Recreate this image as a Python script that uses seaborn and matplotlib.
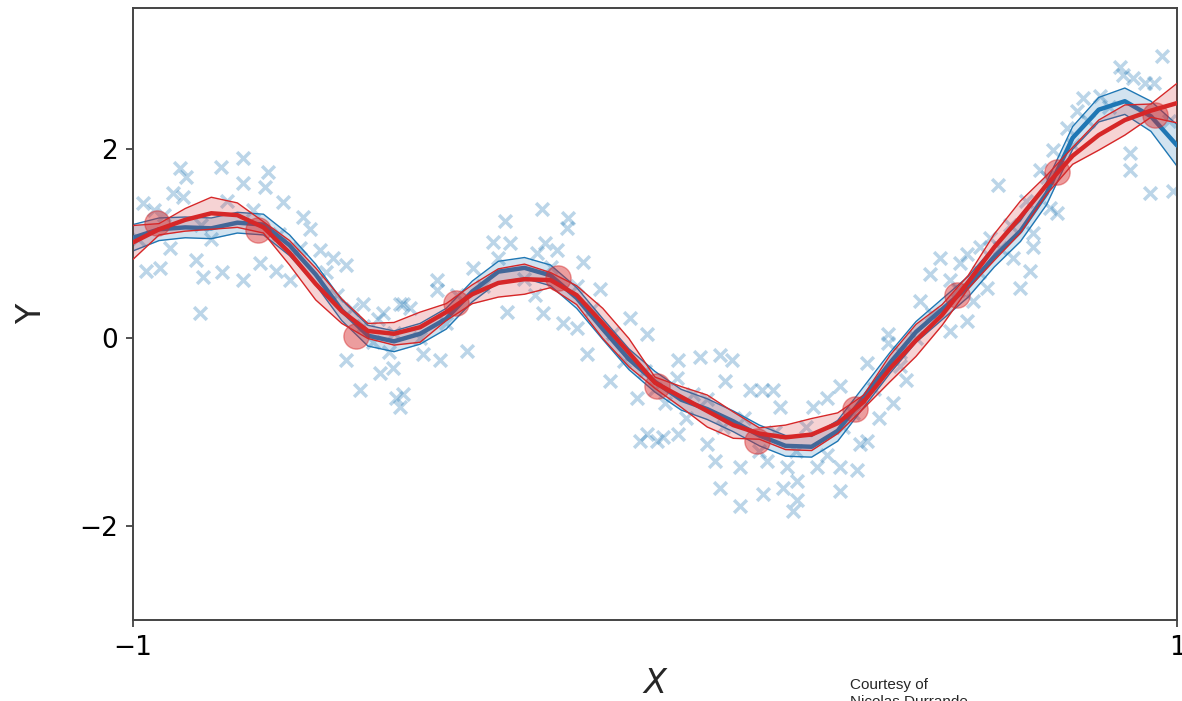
import numpy as np
import pandas as pd
import matplotlib
matplotlib.use("Agg")
import matplotlib.pyplot as plt
import seaborn as sns

# ---------------- data ----------------
x_grid = [-1.0, -0.95, -0.9, -0.85, -0.8, -0.75, -0.7, -0.65, -0.6, -0.55,
          -0.5, -0.45, -0.4, -0.35, -0.3, -0.25, -0.2, -0.15, -0.1, -0.05,
          0.0, 0.05, 0.1, 0.15, 0.2, 0.25, 0.3, 0.35, 0.4, 0.45,
          0.5, 0.55, 0.6, 0.65, 0.7, 0.75, 0.8, 0.85, 0.9, 0.95, 1.0]

full_mean = [1.06, 1.15, 1.17, 1.16, 1.22, 1.20, 0.98, 0.67, 0.29, 0.02,
             -0.04, 0.04, 0.20, 0.49, 0.70, 0.74, 0.66, 0.42, 0.09, -0.23,
             -0.47, -0.66, -0.76, -0.89, -1.04, -1.15, -1.16, -0.99, -0.63, -0.27,
             0.06, 0.30, 0.54, 0.86, 1.13, 1.53, 2.12, 2.42, 2.51, 2.35, 2.04]
full_half = [0.14, 0.12, 0.11, 0.11, 0.11, 0.11, 0.11, 0.11, 0.11, 0.11,
             0.11, 0.11, 0.11, 0.11, 0.11, 0.11, 0.11, 0.11, 0.11, 0.11,
             0.11, 0.11, 0.11, 0.11, 0.11, 0.11, 0.11, 0.11, 0.11, 0.11,
             0.11, 0.11, 0.11, 0.11, 0.11, 0.12, 0.12, 0.13, 0.14, 0.16, 0.22]

sparse_mean = [1.01, 1.15, 1.25, 1.32, 1.30, 1.17, 0.90, 0.57, 0.28, 0.07,
               0.04, 0.11, 0.27, 0.46, 0.58, 0.62, 0.61, 0.45, 0.15, -0.16,
               -0.48, -0.63, -0.78, -0.93, -1.02, -1.06, -1.03, -0.91, -0.68, -0.33,
               -0.03, 0.24, 0.59, 0.96, 1.28, 1.62, 1.93, 2.15, 2.31, 2.41, 2.49]
sparse_half = [0.18, 0.06, 0.12, 0.17, 0.13, 0.06, 0.13, 0.17, 0.13, 0.08,
               0.12, 0.16, 0.09, 0.10, 0.15, 0.16, 0.08, 0.10, 0.16, 0.15,
               0.06, 0.11, 0.17, 0.14, 0.06, 0.13, 0.17, 0.11, 0.07, 0.14,
               0.17, 0.11, 0.07, 0.14, 0.17, 0.10, 0.09, 0.16, 0.16, 0.07, 0.21]

inducing_x = [-0.954, -0.761, -0.573, -0.381, -0.186, 0.004, 0.195, 0.383, 0.579, 0.770, 0.958]
inducing_y = [1.22, 1.14, 0.02, 0.37, 0.63, -0.51, -1.10, -0.76, 0.45, 1.76, 2.36]

obs_x = [-0.789, -0.831, -0.910, -0.898, -0.741, -0.789, -0.747, -0.923, -0.904, -0.981,
         -0.713, -0.674, -0.642, -0.617, -0.592, -0.559, -0.521, -0.489, -0.975, -0.948,
         -0.879, -0.866, -0.789, -0.757, -0.726, -0.699, -0.872, -0.592, -0.565, -0.527,
         -0.502, -0.496, -0.489,
         -0.99, -0.96, -0.94, -0.93, -0.87, -0.85, -0.83, -0.82, -0.77, -0.72,
         -0.68, -0.66, -0.63, -0.61, -0.58, -0.56, -0.54, -0.53, -0.51, -0.50,
         -0.216, -0.287, -0.167, -0.169, -0.310, -0.278, -0.211, -0.188, -0.226, -0.138,
         -0.349, -0.418, -0.418, -0.483, -0.469, -0.105, -0.048, -0.015, -0.176, -0.149,
         -0.215, -0.284, -0.130, -0.086, -0.034, -0.029, -0.360, -0.412, -0.444, -0.483,
         0.004,
         -0.45, -0.40, -0.38, -0.33, -0.30, -0.25, -0.23, -0.20, -0.15, -0.12,
         -0.08, -0.06, -0.02, 0.0,
         0.044, 0.086, 0.124, 0.148, 0.134, 0.042, 0.073, 0.182, 0.205, 0.226,
         0.239, 0.354, 0.406, 0.446, 0.446, 0.303, 0.330, 0.456, -0.015, 0.015,
         0.044, 0.100, 0.115, 0.163, 0.215, 0.253, 0.272, 0.310, 0.354, 0.387,
         0.393, 0.406, 0.207, 0.163, 0.245, 0.272, 0.264, 0.354, 0.124,
         0.02, 0.06, 0.10, 0.13, 0.17, 0.20, 0.23, 0.27, 0.29, 0.33,
         0.36, 0.38, 0.42, 0.43, 0.47, 0.48,
         0.891, 0.916, 0.897, 0.820, 0.808, 0.789, 0.762, 0.738, 0.910, 0.910,
         0.948, 0.992, 0.657, 0.770, 0.757, 0.724, 0.724, 0.686, 0.718, 0.699,
         0.642, 0.623, 0.598, 0.584, 0.546, 0.527, 0.565, 0.508, 0.598, 0.565,
         0.609, 0.636,
         0.971, 0.939, 0.853, 0.87, 0.955, 0.985, 0.80, 0.83, 0.75, 0.71,
         0.68, 0.66, 0.62, 0.58, 0.53, 0.50, 0.47]
obs_y = [1.91, 1.81, 1.80, 1.70, 1.76, 1.64, 1.60, 1.53, 1.49, 1.43,
         1.44, 1.28, 0.93, 0.85, 0.77, 0.36, 0.26, 0.36, 0.71, 0.74,
         0.82, 0.64, 0.61, 0.79, 0.71, 0.61, 0.26, -0.24, -0.56, -0.38,
         -0.32, -0.64, -0.74,
         1.05, 1.35, 1.30, 0.95, 1.20, 1.05, 0.70, 1.45, 1.35, 1.10,
         0.95, 1.15, 0.70, 0.45, 0.30, 0.12, -0.05, 0.20, -0.15, 0.05,
         1.37, 1.24, 1.27, 1.16, 1.01, 1.00, 1.00, 0.93, 0.90, 0.80,
         0.74, 0.61, 0.50, 0.36, 0.31, 0.52, 0.21, 0.04, 0.15, 0.10,
         0.26, 0.27, -0.17, -0.46, -0.64, -1.10, -0.14, -0.24, -0.17, -0.60,
         -1.10,
         0.00, 0.15, 0.45, 0.55, 0.85, 0.62, 0.45, 0.75, 0.55, 0.30,
         0.05, -0.25, -0.35, -0.55,
         -0.24, -0.21, -0.19, -0.24, -0.46, -0.43, -0.60, -0.56, -0.56, -0.56,
         -0.74, -0.51, -0.27, 0.04, -0.06, -0.74, -0.64, -0.70, -1.02, -1.06,
         -1.02, -1.13, -1.31, -1.38, -1.31, -1.38, -1.52, -1.38, -1.38, -1.41,
         -1.13, -1.10, -1.66, -1.79, -1.60, -1.73, -1.84, -1.63, -1.60,
         -0.70, -0.85, -0.65, -0.95, -0.85, -1.20, -1.00, -1.20, -0.95, -1.25,
         -0.95, -0.80, -0.55, -0.85, -0.30, -0.45,
         2.87, 2.76, 2.79, 2.54, 2.41, 2.23, 1.99, 1.78, 1.96, 1.78,
         1.53, 1.56, 1.62, 1.32, 1.38, 1.11, 0.96, 0.85, 0.71, 0.53,
         1.06, 0.96, 0.89, 0.79, 0.84, 0.68, 0.61, 0.39, 0.18, 0.07,
         0.39, 0.53,
         2.99, 2.70, 2.57, 2.45, 2.70, 2.30, 2.05, 2.30, 1.70, 1.45,
         1.20, 0.95, 0.70, 0.50, 0.25, 0.00, -0.15]

x_tick_values = [-1, 1]
x_tick_labels = ["\u22121", "1"]
y_tick_values = [-2, 0, 2]
y_tick_labels = ["\u22122", "0", "2"]

# ---------------- figure ----------------
sns.set_style("ticks")
plt.rcParams["font.family"] = ["DejaVu Sans"]

BLUE = "#1f77b4"
RED = "#d62728"

fig = plt.figure(figsize=(11.82, 7.01), dpi=100)
ax = fig.add_axes([0.1125, 0.1155, 0.8833, 0.8731])

obs = pd.DataFrame({"x": obs_x, "y": obs_y})
sns.scatterplot(data=obs, x="x", y="y", marker="x", s=85, color=BLUE,
                alpha=0.3, linewidth=2.5, ax=ax, zorder=1)

xg = np.array(x_grid)
fm = np.array(full_mean)
fh = np.array(full_half)
sm = np.array(sparse_mean)
sh = np.array(sparse_half)

line_kw = dict(solid_joinstyle="round", solid_capstyle="round")

# full GP band
ax.fill_between(xg, fm - fh, fm + fh, color=BLUE, alpha=0.2, linewidth=0, zorder=2)
sns.lineplot(x=xg, y=fm + fh, color=BLUE, linewidth=1.0, ax=ax, zorder=2, **line_kw)
sns.lineplot(x=xg, y=fm - fh, color=BLUE, linewidth=1.0, ax=ax, zorder=2, **line_kw)
sns.lineplot(x=xg, y=fm, color=BLUE, linewidth=3.2, ax=ax, zorder=3, **line_kw)

# inducing points
ind = pd.DataFrame({"x": inducing_x, "y": inducing_y})
sns.scatterplot(data=ind, x="x", y="y", s=330, color=RED, alpha=0.45,
                edgecolor=RED, linewidth=1, ax=ax, zorder=4)

# sparse GP band
ax.fill_between(xg, sm - sh, sm + sh, color=RED, alpha=0.2, linewidth=0, zorder=5)
sns.lineplot(x=xg, y=sm + sh, color=RED, linewidth=1.0, ax=ax, zorder=5, **line_kw)
sns.lineplot(x=xg, y=sm - sh, color=RED, linewidth=1.0, ax=ax, zorder=5, **line_kw)
sns.lineplot(x=xg, y=sm, color=RED, linewidth=3.2, ax=ax, zorder=6, **line_kw)

ax.set_xlim(-1, 1)
ax.set_ylim(-3, 3.5)
ax.set_xticks(x_tick_values)
ax.set_xticklabels(x_tick_labels)
ax.set_yticks(y_tick_values)
ax.set_yticklabels(y_tick_labels)
ax.tick_params(axis="both", labelsize=19, length=5, width=1.2, colors="#333333",
               labelcolor="black", pad=6)
for sp in ax.spines.values():
    sp.set_visible(True)
    sp.set_linewidth(1.4)
    sp.set_color("#444444")

ax.set_xlabel("$X$", fontsize=24, labelpad=4)
ax.set_ylabel("Y", fontsize=24, labelpad=22)

fig.text(850 / 1182, 1 - 678 / 701, "Courtesy of\nNicolas Durrande",
         fontsize=11, family=["Liberation Sans", "DejaVu Sans"],
         ha="left", va="top", linespacing=1.3)

fig.savefig("out.png", dpi=100)
